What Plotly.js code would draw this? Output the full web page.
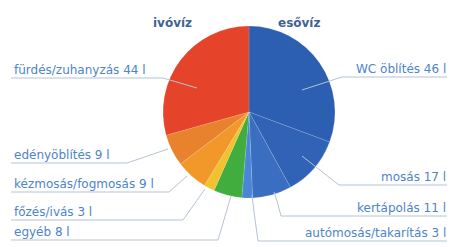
<!DOCTYPE html>
<html>
<head>
<meta charset="utf-8">
<script src="https://cdn.plot.ly/plotly-3.0.1.min.js"></script>
<style>html,body{margin:0;padding:0;background:#fff}#chart{width:452px;height:247px}</style>
</head>
<body>
<div id="chart"></div>
<script>
// Data (esővíz slices first, then ivóvíz, clockwise from 12 o'clock)
const categories = ["WC öblítés", "mosás", "kertápolás", "autómosás/takarítás",
                    "egyéb", "főzés/ivás", "kézmosás/fogmosás", "edényöblítés", "fürdés/zuhanyzás"];
const litres = [46, 17, 11, 3, 8, 3, 9, 9, 44];
const unit = " l";
const groupTitles = ["ivóvíz", "esővíz"];

const sliceColors = ["#2c5fb1", "#3063b6", "#3a6ec0", "#4a86d6",
                     "#41ad3f", "#f0c22e", "#f2982b", "#e9822c", "#e6442a"];

const W = 452, H = 247;
const px = (x) => x / W;
const py = (y) => 1 - y / H;

// label layout (pixel positions): side, underline y, underline x-extent, leader end
const labelLayout = [
  {side: "R", y: 77,  x0: 342, tip: [[302, 90]]},
  {side: "R", y: 185, x0: 339, tip: [[302, 156]]},
  {side: "R", y: 216, x0: 281, tip: [[277, 201], [274, 192]]},
  {side: "R", y: 241, x0: 258, tip: [[254, 212], [252, 195]]},
  {side: "L", y: 240, x1: 218, tip: [[231, 196]]},
  {side: "L", y: 220, x1: 183, tip: [[205, 189]]},
  {side: "L", y: 192, x1: 169, tip: [[187, 176]]},
  {side: "L", y: 163, x1: 127, tip: [[168, 149]]},
  {side: "L", y: 78,  x1: 163, tip: [[197, 88]]}
];

const textColor = "#4d84ca";
const lineColor = "#b4c3d6";
const font = {family: "DejaVu Sans, sans-serif", size: 12, color: textColor};

const annotations = [];
const shapes = [];
categories.forEach((c, i) => {
  const L = labelLayout[i];
  const txt = c + " " + litres[i] + unit;
  if (L.side === "R") {
    annotations.push({xref: "paper", yref: "paper", x: px(447), y: py(L.y - 0.5),
      xanchor: "right", yanchor: "bottom", text: txt, showarrow: false, font: font,
      borderpad: 0});
    let path = `M ${px(447)} ${py(L.y)} L ${px(L.x0)} ${py(L.y)}`;
    L.tip.forEach(p => { path += ` L ${px(p[0])} ${py(p[1])}`; });
    shapes.push({type: "path", xref: "paper", yref: "paper", path: path,
      line: {color: lineColor, width: 1}});
  } else {
    annotations.push({xref: "paper", yref: "paper", x: px(13), y: py(L.y - 0.5),
      xanchor: "left", yanchor: "bottom", text: txt, showarrow: false, font: font,
      borderpad: 0});
    let path = `M ${px(11)} ${py(L.y)} L ${px(L.x1)} ${py(L.y)}`;
    L.tip.forEach(p => { path += ` L ${px(p[0])} ${py(p[1])}`; });
    shapes.push({type: "path", xref: "paper", yref: "paper", path: path,
      line: {color: lineColor, width: 1}});
  }
});

const titleFont = {family: "DejaVu Sans, sans-serif", size: 12, color: "#3f6494"};
annotations.push({xref: "paper", yref: "paper", x: px(172), y: py(14), text: "<b>" + groupTitles[0] + "</b>",
  showarrow: false, font: titleFont});
annotations.push({xref: "paper", yref: "paper", x: px(322), y: py(14), text: "<b>" + groupTitles[1] + "</b>",
  showarrow: false, font: titleFont});

const cx = 249, cy = 112, r = 86;
const trace = {
  type: "pie",
  labels: categories,
  values: litres,
  sort: false,
  direction: "clockwise",
  rotation: 0,
  textinfo: "none",
  hoverinfo: "label+value",
  marker: {colors: sliceColors, line: {color: "rgba(255,255,255,0.25)", width: 0.5}},
  domain: {x: [px(cx - r), px(cx + r)], y: [py(cy + r), py(cy - r)]},
  showlegend: false
};

Plotly.newPlot("chart", [trace], {
  width: W, height: H,
  margin: {l: 0, r: 0, t: 0, b: 0},
  paper_bgcolor: "#ffffff",
  showlegend: false,
  annotations: annotations,
  shapes: shapes
}, {staticPlot: true});
</script>
</body>
</html>
